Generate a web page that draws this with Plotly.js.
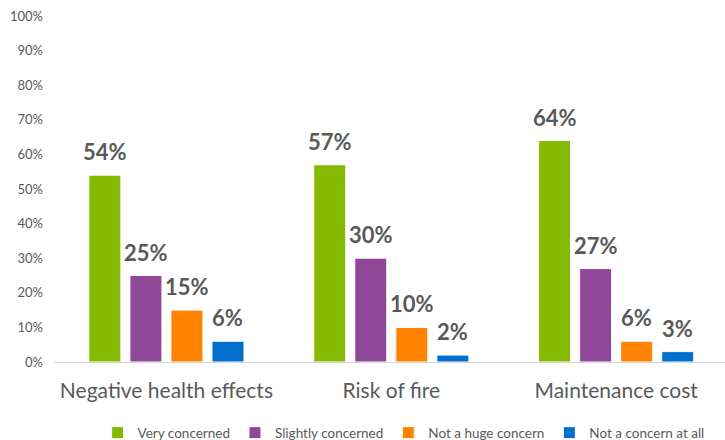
<!DOCTYPE html>
<html>
<head>
<meta charset="utf-8">
<script src="https://cdn.plot.ly/plotly-3.0.1.min.js"></script>
<style>html,body{margin:0;padding:0;background:#fff;}#chart{width:725px;height:440px;}</style>
</head>
<body>
<div id="chart"></div>
<script>
const categories = ["Negative health effects", "Risk of fire", "Maintenance cost"];
const seriesNames = ["Very concerned", "Slightly concerned", "Not a huge concern", "Not a concern at all"];
const veryConcerned = [54, 57, 64];
const slightlyConcerned = [25, 30, 27];
const notHugeConcern = [15, 10, 6];
const notAtAll = [6, 2, 3];
const yTickVals = [0, 10, 20, 30, 40, 50, 60, 70, 80, 90, 100];
const yTickText = ["0%", "10%", "20%", "30%", "40%", "50%", "60%", "70%", "80%", "90%", "100%"];

const colors = ["#84BA00", "#8E4897", "#FF8300", "#0070CC"];
const allSeries = [veryConcerned, slightlyConcerned, notHugeConcern, notAtAll];
const bargap = 0.27;
const slot = (1 - bargap) / allSeries.length;

const traces = allSeries.map((vals, j) => ({
  type: "bar",
  name: seriesNames[j],
  x: categories.map((c, i) => i),
  y: vals,
  marker: {color: colors[j], line: {color: "#ffffff", width: 1}},
  hoverinfo: "none"
}));

const annotations = [];
allSeries.forEach((vals, j) => {
  vals.forEach((v, i) => {
    annotations.push({
      x: i + (j - (allSeries.length - 1) / 2) * slot,
      y: v, xref: "x", yref: "y",
      text: v + "%", showarrow: false,
      yanchor: "bottom", yshift: 8,
      font: {family: "Lato, sans-serif", size: 22, color: "#595959", weight: "bold"}
    });
  });
});

const layout = {
  width: 725, height: 440,
  margin: {l: 54, r: 0, t: 16, b: 78, autoexpand: false},
  paper_bgcolor: "#ffffff", plot_bgcolor: "#ffffff",
  barmode: "group", bargap: bargap, bargroupgap: 0.22,
  font: {family: "Lato, sans-serif", color: "#595959"},
  showlegend: true,
  legend: {
    orientation: "h", x: 0.065, xanchor: "left", y: -0.16, yanchor: "top",
    font: {size: 13.5, color: "#595959"}, itemwidth: 30, traceorder: "normal"
  },
  xaxis: {
    range: [-0.5, 2.484], tickvals: [0, 1, 2], ticktext: categories,
    showgrid: false, zeroline: false, showline: true, linecolor: "#d9d9d9", linewidth: 1,
    ticks: "", ticklabelstandoff: 10,
    tickfont: {size: 21, color: "#595959"}, fixedrange: true
  },
  yaxis: {
    range: [0, 100], tickvals: yTickVals, ticktext: yTickText,
    showgrid: false, zeroline: false, showline: false,
    ticks: "", ticklabelstandoff: 10,
    tickfont: {size: 13, color: "#595959"}, fixedrange: true
  },
  annotations: annotations
};

Plotly.newPlot("chart", traces, layout, {displayModeBar: false, staticPlot: true});
</script>
</body>
</html>
